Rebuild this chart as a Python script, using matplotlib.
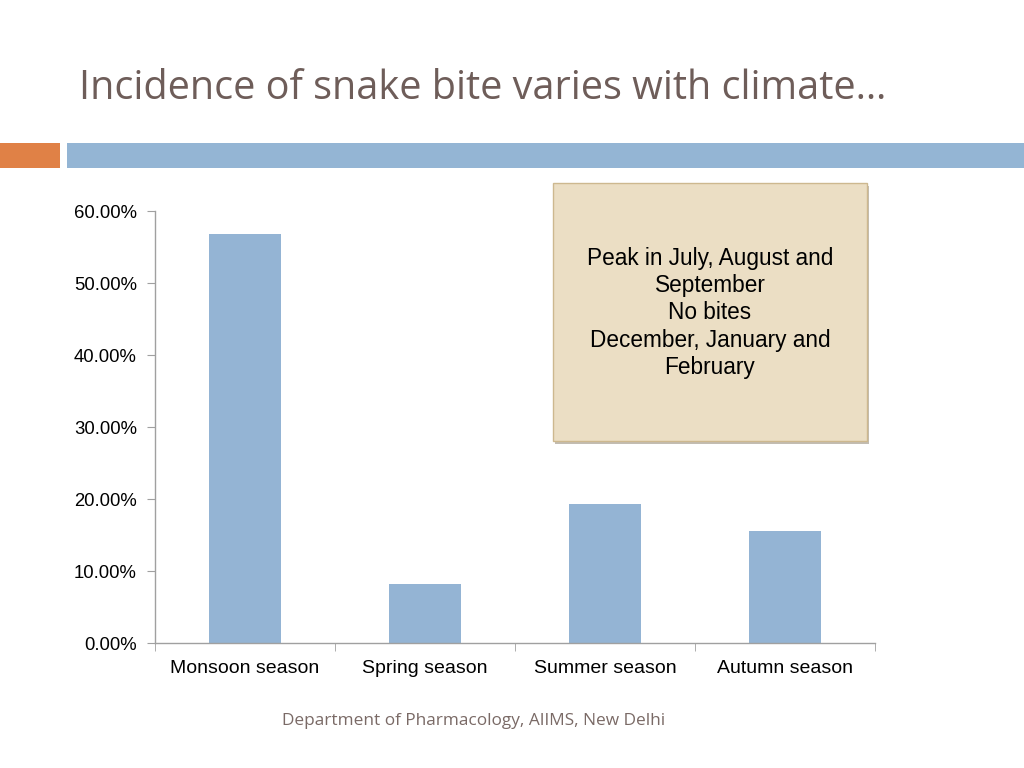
import matplotlib.pyplot as plt
from matplotlib.patches import Rectangle
from matplotlib.ticker import FuncFormatter, FixedLocator

seasons = ['Monsoon season', 'Spring season', 'Summer season', 'Autumn season']
incidence = [0.568, 0.082, 0.193, 0.155]
yticks = [0.0, 0.1, 0.2, 0.3, 0.4, 0.5, 0.6]
note_lines = ['Peak in July, August and', 'September', 'No bites',
              'December, January and', 'February']

W, H = 1024, 768
fig = plt.figure(figsize=(10.24, 7.68), dpi=100)
fig.patch.set_facecolor('white')

# title and header bands
fig.text(79 / W, 1 - 89 / H, 'Incidence of snake bite varies with climate…',
         fontsize=28.5, color='#6e5d59', family='Open Sans', va='center', ha='left')
fig.patches.append(Rectangle((0, 1 - 168 / H), 60 / W, 25 / H, transform=fig.transFigure,
                             facecolor='#e08146', edgecolor='none'))
fig.patches.append(Rectangle((67 / W, 1 - 168 / H), 1 - 67 / W, 25 / H, transform=fig.transFigure,
                             facecolor='#94b5d4', edgecolor='none'))

# chart
ax = fig.add_axes([155 / W, 1 - 643 / H, 720 / W, 432 / H])
x = list(range(len(seasons)))
ax.bar(x, incidence, width=0.4, color='#94b4d4', zorder=2)
ax.set_xlim(-0.5, len(seasons) - 0.5)
ax.set_ylim(0, 0.6)
ax.set_yticks(yticks)
ax.yaxis.set_major_formatter(FuncFormatter(lambda v, p: '%.2f%%' % (v * 100)))
ax.set_xticks(x)
ax.set_xticklabels(seasons)
ax.xaxis.set_minor_locator(FixedLocator([i - 0.5 for i in range(len(seasons) + 1)]))
ax.tick_params(axis='x', which='major', length=0, pad=12.5, labelsize=14)
ax.tick_params(axis='x', which='minor', length=6, color='#a0a0a0', direction='out')
ax.tick_params(axis='y', length=6, color='#a0a0a0', direction='out', pad=7, labelsize=13.3)
for lab in ax.get_xticklabels() + ax.get_yticklabels():
    lab.set_family('Liberation Sans')
for s in ['top', 'right']:
    ax.spines[s].set_visible(False)
for s in ['left', 'bottom']:
    ax.spines[s].set_color('#a0a0a0')
    ax.spines[s].set_linewidth(1)

# note box with shadow
bx, by, bw, bh = 553 / W, 1 - 441 / H, 314 / W, 258 / H
fig.patches.append(Rectangle((bx + 2 / W, by - 3 / H), bw, bh, transform=fig.transFigure,
                             facecolor='#9a9080', edgecolor='none', alpha=0.6, zorder=3))
fig.patches.append(Rectangle((bx, by), bw, bh, transform=fig.transFigure,
                             facecolor='#ebdec4', edgecolor='#cdb88f', linewidth=1, zorder=4))
fig.text(710 / W, 1 - 313 / H, '\n'.join(note_lines), fontsize=16.3, family='Liberation Sans',
         ha='center', va='center', linespacing=1.23, color='black', zorder=5)

# footer
fig.text(474 / W, 1 - 721 / H, 'Department of Pharmacology, AIIMS, New Delhi',
         fontsize=12.4, color='#7a6a66', family='Open Sans', ha='center', va='center')

fig.savefig('out.png', dpi=100)
